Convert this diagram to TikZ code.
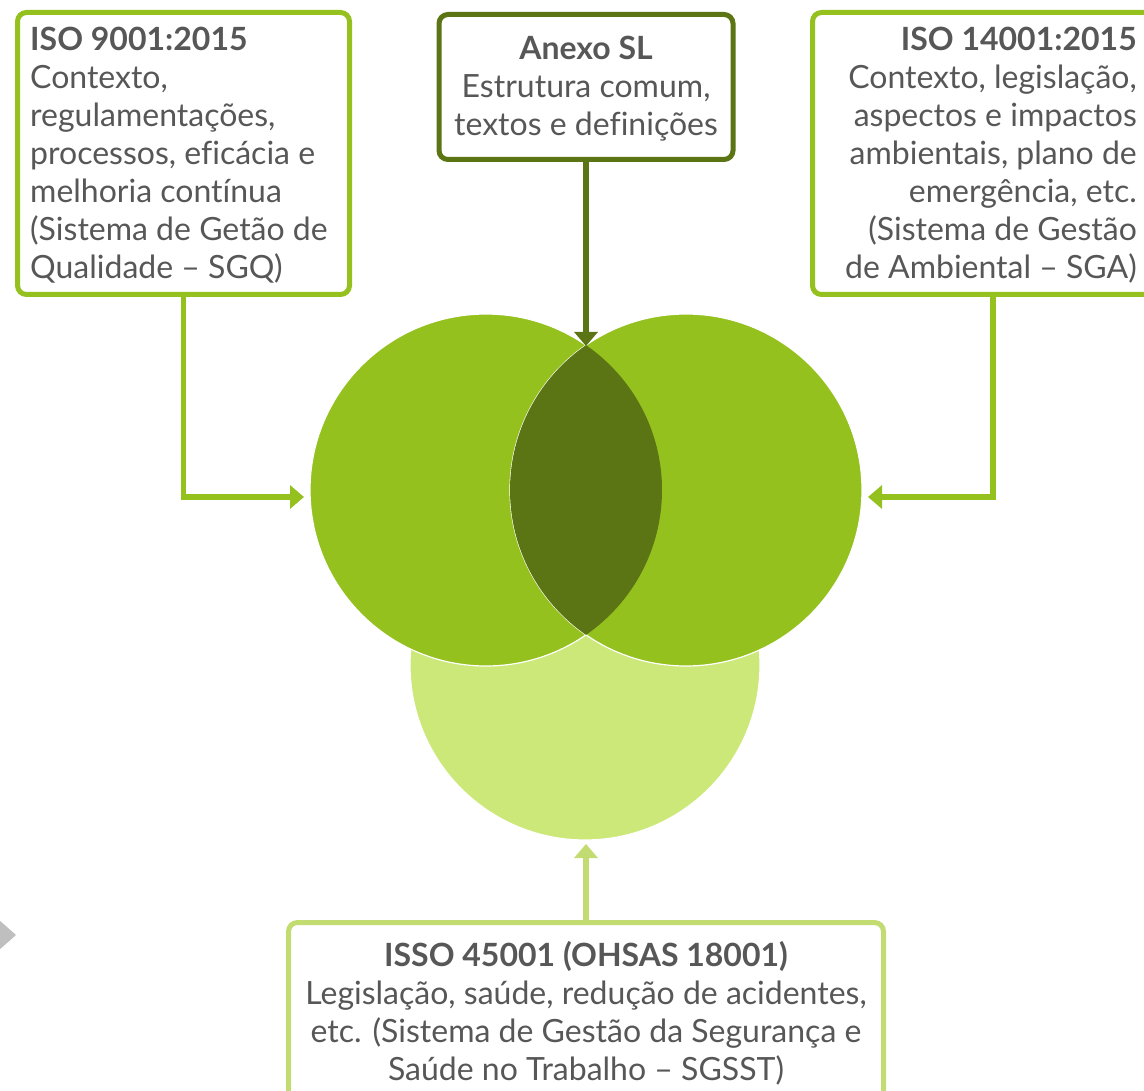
\documentclass[tikz,border=0pt]{standalone}
\usepackage{fontspec}
\setmainfont{Lato}[Ligatures=NoCommon]
\usetikzlibrary{arrows.meta}
\definecolor{gmid}{HTML}{95C11F}
\definecolor{gdark}{HTML}{5B7414}
\definecolor{glight}{HTML}{CCE878}
\definecolor{txt}{HTML}{575757}
\definecolor{tri}{HTML}{BFBFBF}
\begin{document}
\begin{tikzpicture}[x=1pt,y=-1pt,
  box/.style={draw, line width=5pt, rounded corners=9pt, fill=white, inner sep=0pt},
  lbl/.style={inner sep=0pt, text=txt, font=\fontsize{32}{38}\selectfont},
  arr/.style={line width=5.5pt, -{Triangle[length=14pt,width=23pt]}},
  disc/.style={circle, inner sep=0pt, minimum size=352pt, draw=white, line width=1.2pt},
]
\useasboundingbox (0,0) rectangle (1144,1091);
\clip (0,0) rectangle (1144,1091);
\fill[white] (0,0) rectangle (1144,1091);

% circles
\node[disc, fill=glight, minimum size=350pt] (bc) at (585,665) {};
\node[disc, fill=gmid] (lc) at (486,490) {};
\node[disc, fill=gmid] (rc) at (686,490) {};
\begin{scope}
  \clip (486,490) circle (176pt);
  \fill[gdark] (686,490) circle (176pt);
\end{scope}

% boxes
\node[box, draw=gmid, minimum width=332pt, minimum height=282pt] (lbox) at (183.5,153.5) {};
\node[box, draw=gdark, minimum width=294pt, minimum height=145pt] (tbox) at (586,87) {};
\node[box, draw=gmid, minimum width=361pt, minimum height=282pt] (rbox) at (993,153.5) {};
\node[box, draw=glight!95!black, minimum width=595pt, minimum height=190pt] (bbox) at (586,1017.5) {};

% arrows
\coordinate (la) at (304,497);
\coordinate (ra) at (868,497);
\coordinate (ta) at (586,346);
\coordinate (ba) at (586,844);
\draw[arr, gmid] (lbox.south) |- (la);
\draw[arr, gmid] (rbox.south) |- (ra);
\draw[arr, gdark] (tbox.south) -- (ta);
\draw[arr, glight!95!black] (bbox.north) -- (ba);

% side triangle
\fill[tri] (-10,912) -- (16,935) -- (-10,958) -- cycle;

% texts
\node[lbl, anchor=north west, align=left] (lt) at (30,27) {\textbf{ISO 9001:2015}\\Contexto,\\regulamentações,\\processos, eficácia e\\melhoria contínua\\(Sistema de Getão de\\Qualidade – SGQ)};
\node[lbl, anchor=north, align=center] (tt) at (586,36) {\textbf{Anexo SL}\\Estrutura comum,\\textos e definições};
\node[lbl, anchor=north east, align=right] (rt) at (1137,27) {\textbf{ISO 14001:2015}\\Contexto, legislação,\\aspectos e impactos\\ambientais, plano de\\emergência, etc.\\(Sistema de Gestão\\de Ambiental – SGA)};
\node[lbl, anchor=north, align=center] (bt) at (586,941) {\textbf{ISSO 45001 (OHSAS 18001)}\\Legislação, saúde, redução de acidentes,\\etc. (Sistema de Gestão da Segurança e\\Saúde no Trabalho – SGSST)};
\end{tikzpicture}
\end{document}
